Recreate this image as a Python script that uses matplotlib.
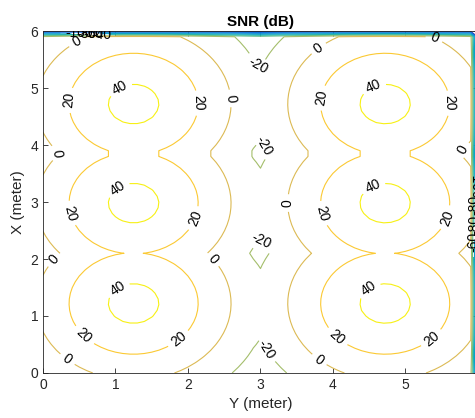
import numpy as np
import matplotlib
matplotlib.use('Agg')
import matplotlib.pyplot as plt
from matplotlib.colors import LinearSegmentedColormap, Normalize

plt.rcParams['font.family'] = ['Liberation Sans', 'DejaVu Sans']

# room / receiver grid (m)
room_size = 6.0
grid_step = 0.1

# LED positions (horizontal axis = Y, vertical axis = X)
led_y = [1.25, 4.72]
led_x = [1.22, 2.98, 4.72]

# link parameters
led_height = 1.095       # LED to receiver plane (m)
lambert_order = 8.2
snr_peak_db = 44.7       # SNR straight under an LED
edge_snr_db = -148.0     # last row / column of the grid were left unfilled

levels = np.arange(-140, 41, 20)

# parula-like colormap
parula_pts = [
    (0.2081, 0.1663, 0.5292), (0.1959, 0.2645, 0.7279), (0.0117, 0.3875, 0.8820),
    (0.0498, 0.4586, 0.8641), (0.0793, 0.5200, 0.8312), (0.0343, 0.5966, 0.8199),
    (0.0228, 0.6535, 0.7768), (0.0843, 0.6928, 0.7062), (0.2178, 0.7250, 0.6193),
    (0.3953, 0.7459, 0.5244), (0.5709, 0.7485, 0.4494), (0.7184, 0.7411, 0.3905),
    (0.8507, 0.7299, 0.3360), (0.9739, 0.7314, 0.2666), (0.9880, 0.8066, 0.1794),
    (0.9589, 0.8949, 0.1132), (0.9763, 0.9831, 0.0538),
]
pos = [i * 4 / 63 for i in range(16)] + [1.0]
parula = LinearSegmentedColormap.from_list('parula', list(zip(pos, parula_pts)))

# SNR field: best LED at each grid point
y = np.arange(0, room_size + grid_step / 2, grid_step)
x = np.arange(0, room_size + grid_step / 2, grid_step)
Y, X = np.meshgrid(y, x)

snr = np.full(Y.shape, -np.inf)
for ly in led_y:
    for lx in led_x:
        d2 = (Y - ly) ** 2 + (X - lx) ** 2
        h2 = led_height ** 2
        s = snr_peak_db + 10 * (lambert_order + 3) * np.log10(h2 / (h2 + d2))
        snr = np.maximum(snr, s)
snr[-1, :] = edge_snr_db
snr[:, -1] = edge_snr_db

fig = plt.figure(figsize=(4.75, 4.18), dpi=100)
ax = fig.add_axes([0.0905, 0.1077, 0.9158, 0.818])

cs = ax.contour(Y, X, snr, levels=levels, cmap=parula,
                norm=Normalize(snr.min(), snr.max()), linewidths=0.8)

# label spots (Y, X), picked to match the reference
label_pos = [
    (1.1, 4.9), (1.05, 3.2), (1.05, 1.45), (4.6, 4.9), (4.6, 3.15), (4.55, 1.4),
    (0.28, 4.79), (2.2, 4.74), (0.28, 2.77), (2.16, 2.68), (0.51, 0.58), (1.93, 0.49),
    (3.79, 4.84), (5.7, 4.74), (3.79, 2.77), (5.67, 2.68), (4.02, 0.58), (5.44, 0.49),
    (2.6, 4.82), (0.12, 3.86), (3.32, 2.98), (0.12, 2.02), (2.37, 2.02), (0.28, 0.14),
    (3.77, 5.75), (5.4, 5.89), (5.77, 3.95), (3.77, 0.16), (0.47, 5.8),
    (2.88, 5.32), (3.06, 4.0), (3.02, 2.33), (3.06, 0.4),
    (0.5, 5.97), (0.6, 5.96), (0.7, 5.95), (0.8, 5.94),
    (5.97, 3.3), (5.96, 2.95), (5.95, 2.6), (5.94, 2.3),
]
ax.clabel(cs, fmt='%d', fontsize=10, colors='k', manual=label_pos, inline=True)

ax.set_xlim(0, 6)
ax.set_ylim(0, 6)
ax.set_xticks(range(7))
ax.set_yticks(range(7))
ax.tick_params(direction='in', top=True, right=True, length=3.5, width=0.6,
               colors='#262626', labelsize=10)
for sp in ax.spines.values():
    sp.set_color('#262626')
    sp.set_linewidth(0.6)

ax.set_title('SNR (dB)', fontsize=11, fontweight='bold', pad=4)
ax.set_xlabel('Y (meter)', fontsize=11, color='#262626')
ax.set_ylabel('X (meter)', fontsize=11, color='#262626')

fig.savefig('out.png', dpi=100)
